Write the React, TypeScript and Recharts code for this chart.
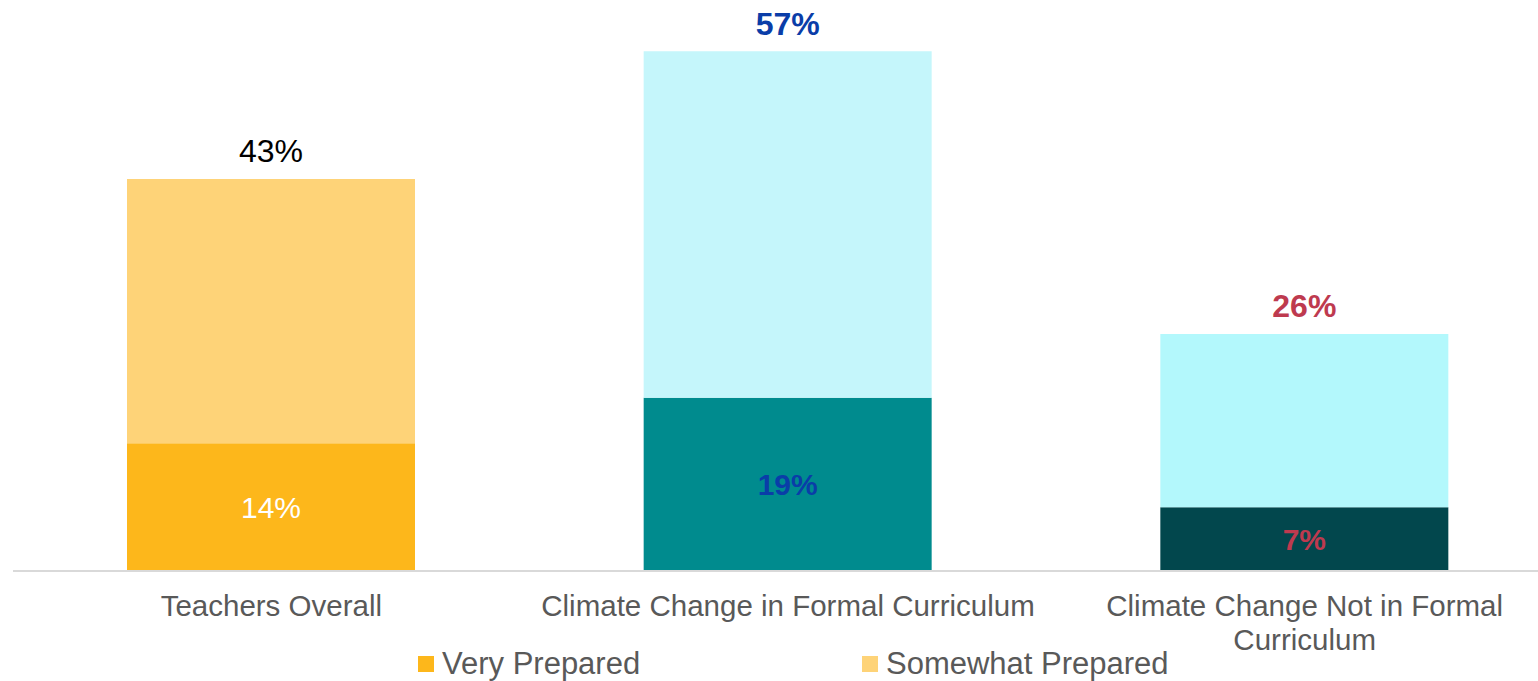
import { Bar, BarChart, Cell, LabelList, Legend, XAxis, YAxis } from "recharts";

const categories = [
  "Teachers Overall",
  "Climate Change in Formal Curriculum",
  "Climate Change Not in Formal Curriculum"
];
const veryPrepared = [14, 19, 7];
const somewhatPrepared = [29, 38, 19];
const totalPrepared = [43, 57, 26];

const legendItems = [
  { name: "Very Prepared", color: "#FDB71B" },
  { name: "Somewhat Prepared", color: "#FED378" }
];

const veryColors = ["#FDB71B", "#008B8E", "#02474D"];
const somewhatColors = ["#FED378", "#C5F6FB", "#B3F8FC"];
const innerLabelColors = ["#FFFFFF", "#0A3DA8", "#BE3A4F"];
const topLabelColors = ["#000000", "#0A3DA8", "#BE3A4F"];
const boldLabels = [false, true, true];

const data = categories.map((name, i) => ({
  name,
  very: veryPrepared[i],
  somewhat: somewhatPrepared[i],
  total: totalPrepared[i]
}));

const font = "'Liberation Sans', Arial, sans-serif";
const tickFontSize = 29.5;

// greedy word wrap, measured with a canvas
function wrapLabel(label: string, maxWidth: number) {
  const ctx = document.createElement("canvas").getContext("2d");
  if (!ctx) return [label];
  ctx.font = `${tickFontSize}px ${font}`;
  const lines: string[] = [];
  let line = "";
  for (const word of label.split(" ")) {
    const next = line ? `${line} ${word}` : word;
    if (line && ctx.measureText(next).width > maxWidth) {
      lines.push(line);
      line = word;
    } else {
      line = next;
    }
  }
  if (line) lines.push(line);
  return lines;
}

function InnerLabel(props: any) {
  const { x, y, width, height, index, value } = props;
  return (
    <text
      x={x + width / 2}
      y={y + height / 2 + 3}
      textAnchor="middle"
      dominantBaseline="middle"
      fill={innerLabelColors[index]}
      fontSize={30}
      fontWeight={boldLabels[index] ? 700 : 400}
      fontFamily={font}
    >
      {value}%
    </text>
  );
}

function TopLabel(props: any) {
  const { x, y, width, index } = props;
  return (
    <text
      x={x + width / 2}
      y={y - 25}
      textAnchor="middle"
      dominantBaseline="middle"
      fill={topLabelColors[index]}
      fontSize={32}
      fontWeight={boldLabels[index] ? 700 : 400}
      fontFamily={font}
    >
      {totalPrepared[index]}%
    </text>
  );
}

function CategoryTick(props: any) {
  const { x, y, payload } = props;
  const lines = wrapLabel(payload.value, 500);
  return (
    <text
      x={x}
      y={y + 29}
      textAnchor="middle"
      dominantBaseline="middle"
      fill="#595959"
      fontSize={tickFontSize}
      fontFamily={font}
    >
      {lines.map((line, i) => (
        <tspan key={i} x={x} dy={i === 0 ? 0 : 34}>
          {line}
        </tspan>
      ))}
    </text>
  );
}

function LegendContent() {
  return (
    <div
      style={{
        display: "flex",
        fontFamily: font,
        fontSize: 31,
        lineHeight: "32px",
        color: "#595959"
      }}
    >
      {legendItems.map((item, i) => (
        <div
          key={item.name}
          style={{ display: "flex", alignItems: "center", marginLeft: i === 0 ? 418 : 0, width: 444 }}
        >
          <span style={{ width: 16, height: 16, background: item.color, marginRight: 8 }} />
          <span>{item.name}</span>
        </div>
      ))}
    </div>
  );
}

export default function App() {
  return (
    <div
      style={{
        position: "fixed",
        left: 0,
        top: 0,
        width: 1538,
        height: 681,
        overflow: "hidden",
        background: "#fff"
      }}
    >
      <BarChart
        width={1563}
        height={681}
        data={data}
        margin={{ top: 24, right: 0, bottom: 0, left: 13 }}
        barSize={288}
      >
        <XAxis
          dataKey="name"
          height={110}
          axisLine={{ stroke: "#D9D9D9", strokeWidth: 2 }}
          tickLine={false}
          interval={0}
          tick={<CategoryTick />}
        />
        <YAxis hide domain={[0, 60]} />
        <Legend
          layout="horizontal"
          verticalAlign="middle"
          align="center"
          content={<LegendContent />}
          wrapperStyle={{ top: 648, left: 0, width: 1538 }}
        />
        <Bar dataKey="very" stackId="a" isAnimationActive={false}>
          {data.map((d, i) => (
            <Cell key={d.name} fill={veryColors[i]} />
          ))}
          <LabelList dataKey="very" content={<InnerLabel />} />
        </Bar>
        <Bar dataKey="somewhat" stackId="a" isAnimationActive={false}>
          {data.map((d, i) => (
            <Cell key={d.name} fill={somewhatColors[i]} />
          ))}
          <LabelList dataKey="total" content={<TopLabel />} />
        </Bar>
      </BarChart>
    </div>
  );
}
